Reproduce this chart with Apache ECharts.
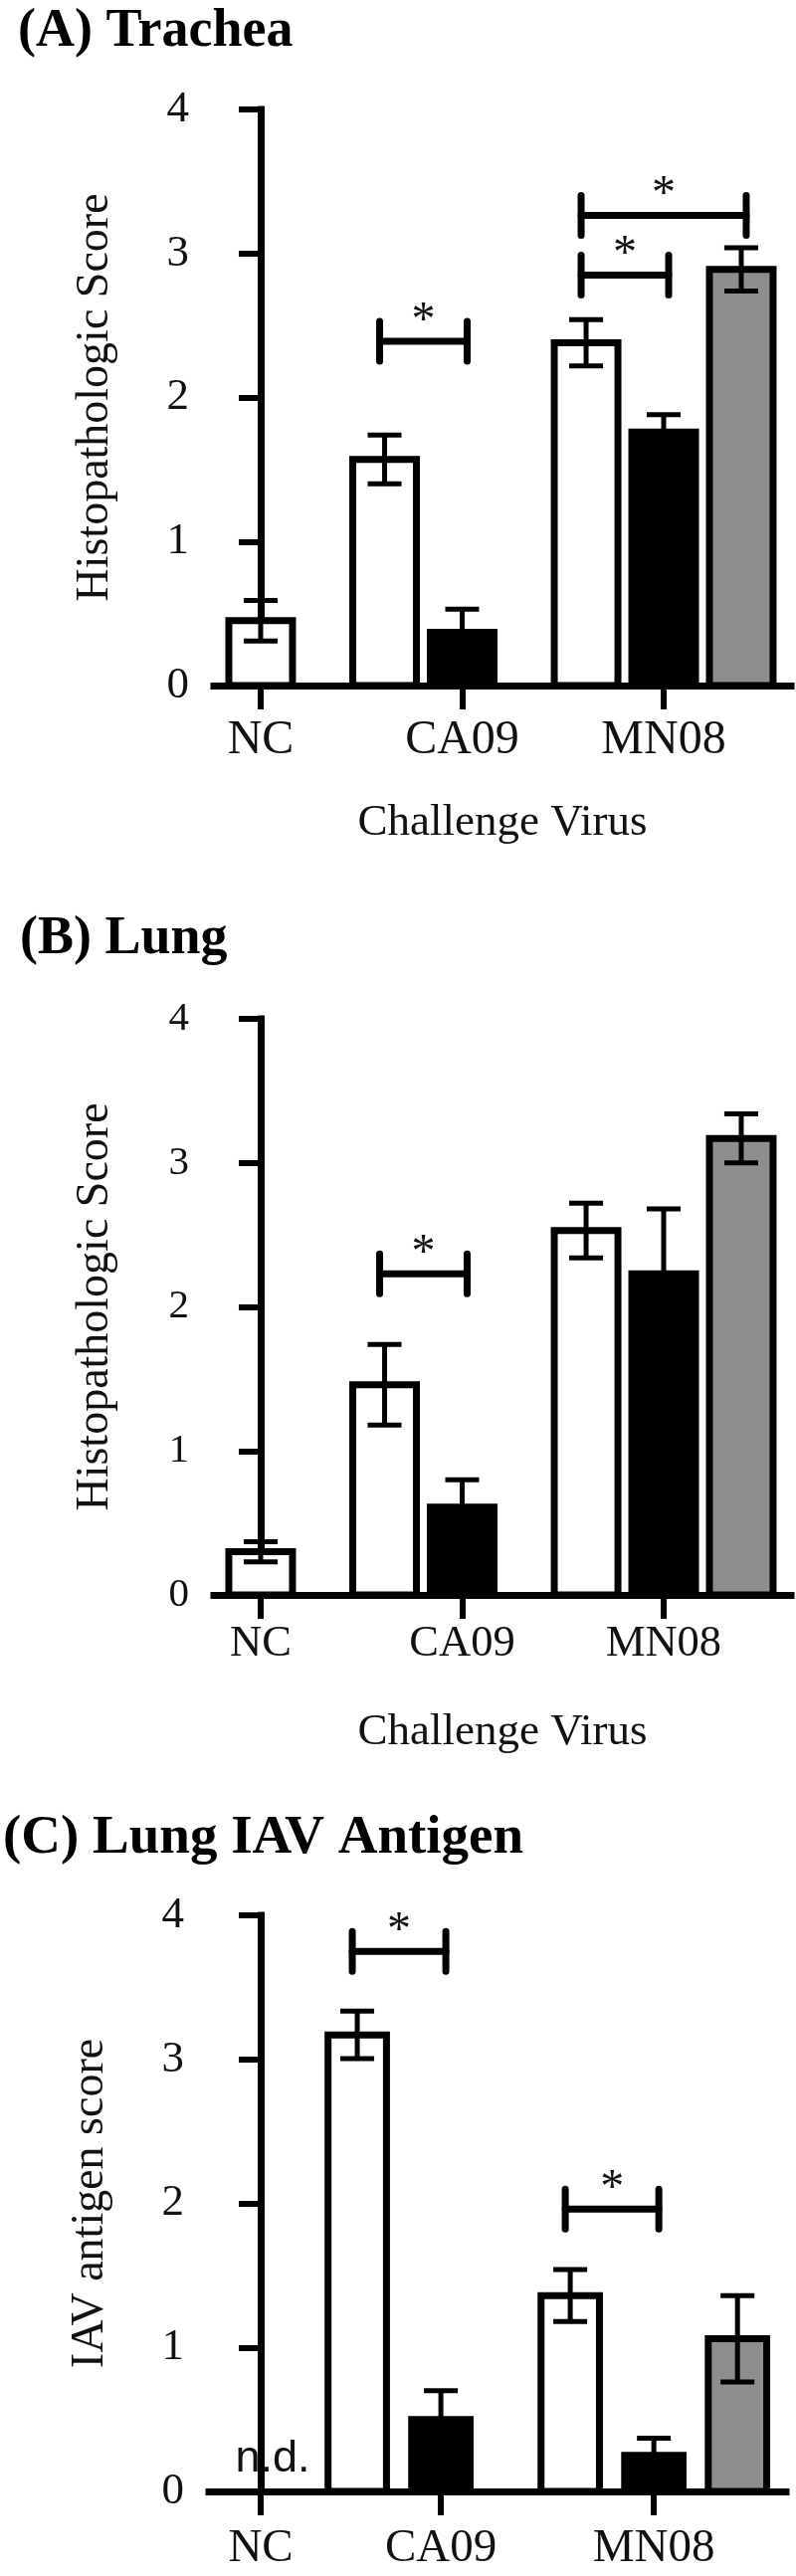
<!DOCTYPE html>
<html>
<head>
<meta charset="utf-8">
<script src="https://cdn.jsdelivr.net/npm/echarts@6/dist/echarts.min.js"></script>
<style>
html,body{margin:0;padding:0;background:#fff;}
#chart{width:800px;height:2589px;}
</style>
</head>
<body>
<div id="chart"></div>
<script>
// ---------------- DATA ----------------
const categories = ['NC', 'CA09', 'MN08'];

// (A) Trachea – histopathologic score (mean, SEM)
const trachWhite    = [0.45, 1.57, 2.38];
const trachWhiteErr = [0.14, 0.17, 0.16];
const trachBlack    = [null, 0.37, 1.76];
const trachBlackErr = [null, 0.16, 0.12];
const trachGray     = [null, null, 2.89];
const trachGrayErr  = [null, null, 0.15];
// significance: [category, bar a, bar b, bracket height]
const trachSig = [['CA09', 0, 1, 2.39], ['MN08', 0, 1, 2.85], ['MN08', 0, 2, 3.265]];

// (B) Lung – histopathologic score
const lungWhite    = [0.30, 1.46, 2.53];
const lungWhiteErr = [0.07, 0.28, 0.19];
const lungBlack    = [null, 0.61, 2.23];
const lungBlackErr = [null, 0.19, 0.45];
const lungGray     = [null, null, 3.17];
const lungGrayErr  = [null, null, 0.17];
const lungSig = [['CA09', 0, 1, 2.23]];

// (C) Lung IAV antigen score
const antWhite    = [null, 3.17, 1.36];
const antWhiteErr = [null, 0.165, 0.18];
const antBlack    = [null, 0.50, 0.25];
const antBlackErr = [null, 0.20, 0.12];
const antGray     = [null, null, 1.06];
const antGrayErr  = [null, null, 0.30];
const antSig = [['CA09', 0, 1, 3.75], ['MN08', 0, 1, 1.96]];
const antNotDetected = ['NC'];

const yTicks = [0, 1, 2, 3, 4];

// ---------------- LAYOUT ----------------
const SERIF = '"Liberation Serif", "Times New Roman", serif';
const fills = ['#ffffff', '#000000', '#8e8e8e'];
const panels = [
  {
    title: '(A) Trachea', titleLeft: 18, titleTop: 5, titleSize: 54,
    grid: {left: 215, right: 5, top: 110, bottom: 1900},
    xMin: -0.232, xMax: 2.632, catPos: [0, 1, 2], slot: 0.385, barW: 0.316,
    slots: {NC: [0, null, null], CA09: [-1, 0, 1], MN08: [-1, 0, 1]},
    xLabelSize: 48, xLabelMargin: 31, yLabelSize: 45,
    yName: 'Histopathologic Score', xName: 'Challenge Virus',
    vals: [trachWhite, trachBlack, trachGray], errs: [trachWhiteErr, trachBlackErr, trachGrayErr],
    sig: trachSig, nd: []
  },
  {
    title: '(B) Lung', titleLeft: 20, titleTop: 917, titleSize: 54,
    grid: {left: 215, right: 5, top: 1024, bottom: 986},
    xMin: -0.232, xMax: 2.632, catPos: [0, 1, 2], slot: 0.385, barW: 0.316,
    slots: {NC: [0, null, null], CA09: [-1, 0, 1], MN08: [-1, 0, 1]},
    xLabelSize: 44.5, xLabelMargin: 27, yLabelSize: 41,
    yName: 'Histopathologic Score', xName: 'Challenge Virus',
    vals: [lungWhite, lungBlack, lungGray], errs: [lungWhiteErr, lungBlackErr, lungGrayErr],
    sig: lungSig, nd: []
  },
  {
    title: '(C) Lung IAV Antigen', titleLeft: 3, titleTop: 1820, titleSize: 55,
    grid: {left: 210, right: 10, top: 1925, bottom: 85},
    xMin: -0.257, xMax: 2.607, catPos: [0, 0.894, 1.951], slot: 0.415, barW: 0.29,
    slots: {NC: [0, null, null], CA09: [-1, 0, 1], MN08: [-1, 0, 1]},
    xLabelSize: 47, xLabelMargin: 34, yLabelSize: 45,
    yName: 'IAV antigen score', xName: '',
    vals: [antWhite, antBlack, antGray], errs: [antWhiteErr, antBlackErr, antGrayErr],
    sig: antSig, nd: antNotDetected
  }
];

// ---------------- BUILD ----------------
const titles = [], grids = [], xAxes = [], yAxes = [], series = [];

panels.forEach((P, pi) => {
  titles.push({
    text: P.title, left: P.titleLeft, top: P.titleTop, padding: 0,
    textStyle: {fontFamily: SERIF, fontWeight: 'bold', fontSize: P.titleSize, color: '#000'}
  });
  grids.push(Object.assign({containLabel: false, outerBoundsMode: 'none'}, P.grid));
  xAxes.push({
    type: 'value', gridIndex: pi, min: P.xMin, max: P.xMax,
    name: P.xName, nameLocation: 'middle', nameGap: 116,
    nameTextStyle: {fontFamily: SERIF, fontSize: 45, color: '#111'},
    splitLine: {show: false},
    axisLine: {show: true, onZero: false, lineStyle: {color: '#000', width: 7, cap: 'square'}},
    axisTick: {show: true, length: 24, customValues: P.catPos, lineStyle: {color: '#000', width: 6}},
    axisLabel: {
      show: true, customValues: P.catPos, margin: P.xLabelMargin,
      fontFamily: SERIF, fontSize: P.xLabelSize, color: '#111',
      formatter: function (v) {
        const i = P.catPos.findIndex(p => Math.abs(p - v) < 1e-6);
        return i >= 0 ? categories[i] : '';
      }
    }
  });
  yAxes.push({
    type: 'value', gridIndex: pi, min: 0, max: 4, interval: 1,
    name: P.yName, nameLocation: 'middle', nameGap: 96,
    nameTextStyle: {fontFamily: SERIF, fontSize: 46, color: '#111'},
    splitLine: {show: false},
    axisLine: {show: true, lineStyle: {color: '#000', width: 7, cap: 'square'}},
    axisTick: {show: true, length: 22, lineStyle: {color: '#000', width: 6}},
    axisLabel: {
      margin: 25, fontFamily: SERIF, fontSize: P.yLabelSize, color: '#111',
      formatter: v => (yTicks.indexOf(v) >= 0 ? String(v) : '')
    }
  });

  // bars + error bars
  P.vals.forEach((arr, si) => {
    const data = [];
    categories.forEach((c, ci) => {
      if (arr[ci] == null) return;
      const s = P.slots[c][si];
      data.push([P.catPos[ci] + s * P.slot, arr[ci], P.errs[si][ci]]);
    });
    series.push({
      type: 'custom', xAxisIndex: pi, yAxisIndex: pi, z: 3 + si,
      encode: {x: 0, y: 1}, clip: false, silent: true,
      data: data,
      renderItem: function (params, api) {
        const x = api.value(0), y = api.value(1), e = api.value(2);
        const hw = P.barW / 2;
        const pL = api.coord([x - hw, 0]);
        const pR = api.coord([x + hw, y]);
        const top = api.coord([x, y + e]);
        const bot = api.coord([x, y - e]);
        const capHalf = 17;
        const ls = {stroke: '#000', lineWidth: 5};
        return {
          type: 'group', children: [
            {type: 'rect', shape: {x: pL[0], y: pR[1], width: pR[0] - pL[0], height: pL[1] - pR[1]},
              style: {fill: fills[si], stroke: '#000', lineWidth: 7}},
            {type: 'line', shape: {x1: top[0], y1: top[1], x2: bot[0], y2: bot[1]}, style: ls},
            {type: 'line', shape: {x1: top[0] - capHalf, y1: top[1], x2: top[0] + capHalf, y2: top[1]}, style: ls},
            {type: 'line', shape: {x1: bot[0] - capHalf, y1: bot[1], x2: bot[0] + capHalf, y2: bot[1]}, style: ls}
          ]
        };
      }
    });
  });

  // significance brackets
  const sigData = P.sig.map(([c, a, b, h]) => {
    const ci = categories.indexOf(c);
    return [P.catPos[ci] + P.slots[c][a] * P.slot, P.catPos[ci] + P.slots[c][b] * P.slot, h];
  });
  series.push({
    type: 'custom', xAxisIndex: pi, yAxisIndex: pi, z: 10,
    encode: {x: [0, 1], y: 2}, clip: false, silent: true,
    data: sigData,
    renderItem: function (params, api) {
      const p1 = api.coord([api.value(0), api.value(2)]);
      const p2 = api.coord([api.value(1), api.value(2)]);
      const ext = 5, capH = 20;
      const ls = {stroke: '#000', lineWidth: 7, lineCap: 'round'};
      const xa = p1[0] - ext, xb = p2[0] + ext, y = p1[1];
      return {
        type: 'group', children: [
          {type: 'line', shape: {x1: xa, y1: y, x2: xb, y2: y}, style: ls},
          {type: 'line', shape: {x1: xa, y1: y - capH, x2: xa, y2: y + capH}, style: ls},
          {type: 'line', shape: {x1: xb, y1: y - capH, x2: xb, y2: y + capH}, style: ls},
          {type: 'text', x: (xa + xb) / 2, y: y - 20,
            style: {text: '*', fontFamily: SERIF, fontSize: 48, fill: '#111', align: 'center', verticalAlign: 'middle'}}
        ]
      };
    }
  });

  // not-detected labels
  if (P.nd.length) {
    series.push({
      type: 'custom', xAxisIndex: pi, yAxisIndex: pi, z: 10,
      encode: {x: 0, y: 1}, clip: false, silent: true,
      data: P.nd.map(c => [P.catPos[categories.indexOf(c)], 0]),
      renderItem: function (params, api) {
        const p = api.coord([api.value(0), api.value(1)]);
        return {type: 'text', x: p[0] + 12, y: p[1] - 10,
          style: {text: 'n.d.', fontFamily: '"Liberation Sans", Arial, sans-serif', fontSize: 45, fill: '#111',
            align: 'center', verticalAlign: 'bottom'}};
      }
    });
  }
});

const chart = echarts.init(document.getElementById('chart'), null, {renderer: 'canvas'});
chart.setOption({
  animation: false,
  backgroundColor: '#ffffff',
  title: titles,
  grid: grids,
  xAxis: xAxes,
  yAxis: yAxes,
  series: series
});
</script>
</body>
</html>
